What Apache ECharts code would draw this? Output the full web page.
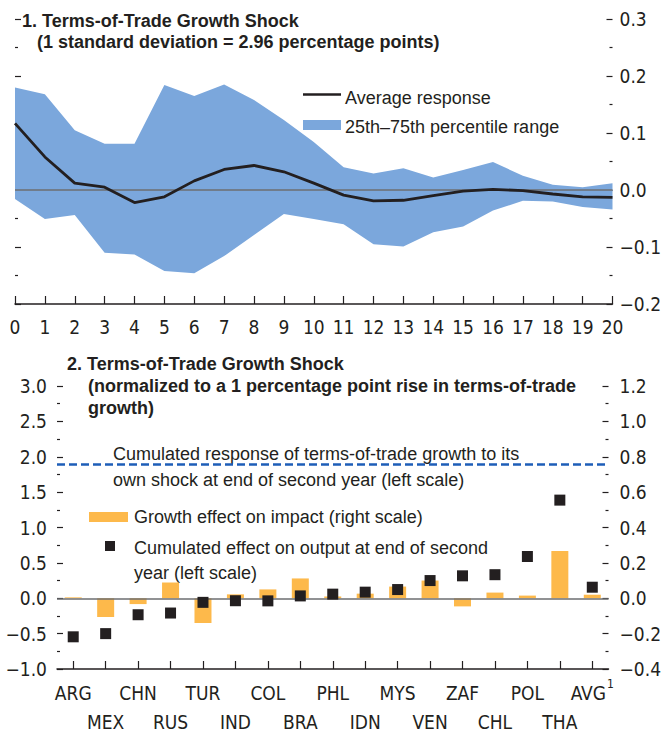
<!DOCTYPE html>
<html><head><meta charset="utf-8">
<script src="https://cdn.jsdelivr.net/npm/echarts@6/dist/echarts.min.js"></script>
<style>html,body{margin:0;padding:0;background:#fff}#c{width:664px;height:736px}</style>
</head><body><div id="c"></div>
<script>
// ---------- Panel 1 data ----------
const periods = ['0','1','2','3','4','5','6','7','8','9','10','11','12','13','14','15','16','17','18','19','20'];
const avgResponse = [0.117, 0.058, 0.012, 0.005, -0.022, -0.012, 0.016, 0.036, 0.043, 0.032, 0.012, -0.009, -0.019, -0.018, -0.010, -0.002, 0.001, -0.001, -0.007, -0.012, -0.013];
const pct75 = [0.180, 0.168, 0.105, 0.081, 0.081, 0.184, 0.165, 0.185, 0.158, 0.123, 0.084, 0.040, 0.029, 0.038, 0.022, 0.035, 0.049, 0.025, 0.009, 0.005, 0.012];
const pct25 = [-0.016, -0.051, -0.044, -0.110, -0.113, -0.142, -0.146, -0.116, -0.079, -0.042, -0.051, -0.060, -0.095, -0.099, -0.074, -0.064, -0.036, -0.019, -0.020, -0.030, -0.034];
const panel1Y = {min: -0.2, max: 0.3, step: 0.1};

// ---------- Panel 2 data ----------
const countries = ['ARG','MEX','CHN','RUS','TUR','IND','COL','BRA','PHL','IDN','MYS','VEN','ZAF','CHL','POL','THA','AVG'];
const growthImpact = [0.005, -0.106, -0.033, 0.089, -0.140, 0.022, 0.050, 0.112, 0.010, 0.026, 0.066, 0.100, -0.046, 0.032, 0.015, 0.267, 0.020];
const cumOutput = [-0.545, -0.500, -0.233, -0.209, -0.058, -0.035, -0.037, 0.033, 0.058, 0.086, 0.123, 0.250, 0.317, 0.333, 0.590, 1.387, 0.156];
const totCumResponse = 1.885;
const panel2Left = {min: -1.0, max: 3.0, step: 0.5};
const panel2Right = {min: -0.4, max: 1.2, step: 0.2};

const INK = '#231f20';
const BAND = '#7ba7dc';
const ORANGE = '#fdb94b';
const DASHBLUE = '#1e5eb8';
const ZEROLINE = '#6d6e71';
const TICK_FONT = '"Liberation Sans Narrow", "Arial Narrow", "DejaVu Sans Condensed", sans-serif';
const TEXT_FONT = '"Liberation Sans", Arial, sans-serif';
const fmt = v => (v < -1e-9 ? '\u2212' : '') + Math.abs(v).toFixed(1);

const tickLabel = {color: INK, fontFamily: TICK_FONT, fontSize: 19};

function yAx(grid, pos, r, showLabel, margin) {
  return {
    type: 'value', gridIndex: grid, position: pos, min: r.min, max: r.max, interval: r.step,
    axisLine: {show: false},
    axisTick: {show: true, inside: true, length: 6, lineStyle: {color: INK, width: 1.2}},
    minorTick: {show: true, splitNumber: 2, length: 3, lineStyle: {color: INK, width: 1.2}},
    splitLine: {show: false}, minorSplitLine: {show: false},
    axisLabel: Object.assign({show: showLabel, margin: margin, formatter: fmt}, tickLabel)
  };
}

const chart = echarts.init(document.getElementById('c'), null, {renderer: 'svg'});
const txt = (x, y, text, bold) => ({
  type: 'text', x: x, y: y, silent: true,
  style: {text: text, font: (bold ? 'bold ' : '') + '18px ' + TEXT_FONT, fill: INK, verticalAlign: 'middle', align: 'left'}
});

chart.setOption({
  animation: false,
  backgroundColor: '#fff',
  grid: [
    {left: 15, right: 42, top: 19, height: 285},
    {left: 57, right: 42, top: 386, height: 286}
  ],
  xAxis: [
    {
      type: 'category', gridIndex: 0, data: periods, boundaryGap: false,
      axisLine: {show: true, onZero: false, lineStyle: {color: INK, width: 1.5}},
      axisTick: {show: true, inside: true, length: 8, interval: 0, lineStyle: {color: INK, width: 1.2}},
      axisLabel: Object.assign({interval: 0, margin: 13}, tickLabel),
      splitLine: {show: false}
    },
    {
      type: 'category', gridIndex: 1, data: countries, boundaryGap: true,
      axisLine: {show: true, onZero: false, lineStyle: {color: INK, width: 1.5}},
      axisTick: {show: true, inside: true, length: 8, alignWithLabel: true, interval: 0, lineStyle: {color: INK, width: 1.2}},
      axisLabel: Object.assign({
        interval: 0, margin: 9, lineHeight: 29,
        formatter: (v, i) => {
          const t = v === 'AVG' ? 'AVG{sup|1}' : v;
          return i % 2 ? '\n' + t : t;
        },
        rich: {sup: {fontFamily: TICK_FONT, fontSize: 12, color: INK, verticalAlign: 'top', lineHeight: 29, padding: [0, 0, 8, 1]}}
      }, tickLabel),
      splitLine: {show: false}
    }
  ],
  yAxis: [
    yAx(0, 'left', panel1Y, false, 8),
    yAx(0, 'right', panel1Y, true, 7),
    yAx(1, 'left', panel2Left, true, 10),
    yAx(1, 'right', panel2Right, true, 11)
  ],
  series: [
    {
      name: '25th percentile', type: 'line', xAxisIndex: 0, yAxisIndex: 0,
      data: pct25, stack: 'band', stackStrategy: 'all', symbol: 'none', silent: true,
      lineStyle: {width: 0, opacity: 0}
    },
    {
      name: '25th–75th percentile range', type: 'line', xAxisIndex: 0, yAxisIndex: 0,
      data: pct75.map((v, i) => +(v - pct25[i]).toFixed(4)), stack: 'band', stackStrategy: 'all',
      symbol: 'none', silent: true,
      lineStyle: {width: 0, opacity: 0},
      areaStyle: {color: BAND, opacity: 1},
      markLine: {silent: true, symbol: 'none', label: {show: false},
        lineStyle: {color: ZEROLINE, width: 1.5, type: 'solid'}, data: [{yAxis: 0}]}
    },
    {
      name: 'Average response', type: 'line', xAxisIndex: 0, yAxisIndex: 0,
      data: avgResponse, symbol: 'none', lineStyle: {color: INK, width: 2.8}, z: 5
    },
    {
      name: 'Growth effect on impact (right scale)', type: 'bar', xAxisIndex: 1, yAxisIndex: 3,
      data: growthImpact, barWidth: 17, itemStyle: {color: ORANGE, opacity: 1},
      markLine: {silent: true, symbol: 'none', label: {show: false},
        lineStyle: {color: ZEROLINE, width: 1.5, type: 'solid'}, data: [{yAxis: 0}]}
    },
    {
      name: 'Cumulated effect on output at end of second year (left scale)', type: 'scatter',
      xAxisIndex: 1, yAxisIndex: 2, data: cumOutput, symbol: 'rect', symbolSize: 11,
      itemStyle: {color: INK, opacity: 1}, z: 6,
      markLine: {silent: true, symbol: 'none', label: {show: false},
        lineStyle: {color: DASHBLUE, width: 2.5, type: [8, 4]}, data: [{yAxis: totCumResponse}]}
    }
  ],
  graphic: [
    txt(22, 21, '1. Terms-of-Trade Growth Shock', true),
    txt(37, 42, '(1 standard deviation = 2.96 percentage points)', true),
    {type: 'line', silent: true, shape: {x1: 303, y1: 94.5, x2: 341, y2: 94.5}, style: {stroke: INK, lineWidth: 2.5}},
    txt(345, 98, 'Average response', false),
    {type: 'rect', silent: true, shape: {x: 303, y: 120, width: 38, height: 10}, style: {fill: BAND}},
    txt(345, 127, '25th\u201375th percentile range', false),

    txt(67, 364, '2. Terms-of-Trade Growth Shock', true),
    txt(88, 386, '(normalized to a 1 percentage point rise in terms-of-trade', true),
    txt(88, 408, 'growth)', true),
    txt(113, 454, 'Cumulated response of terms-of-trade growth to its', false),
    txt(113, 480, 'own shock at end of second year (left scale)', false),
    {type: 'rect', silent: true, shape: {x: 89, y: 512, width: 39, height: 10}, style: {fill: ORANGE}},
    txt(134, 517, 'Growth effect on impact (right scale)', false),
    {type: 'rect', silent: true, shape: {x: 105, y: 541, width: 10, height: 10}, style: {fill: INK}},
    txt(134, 548, 'Cumulated effect on output at end of second', false),
    txt(134, 573, 'year (left scale)', false)
  ]
});
</script></body></html>
